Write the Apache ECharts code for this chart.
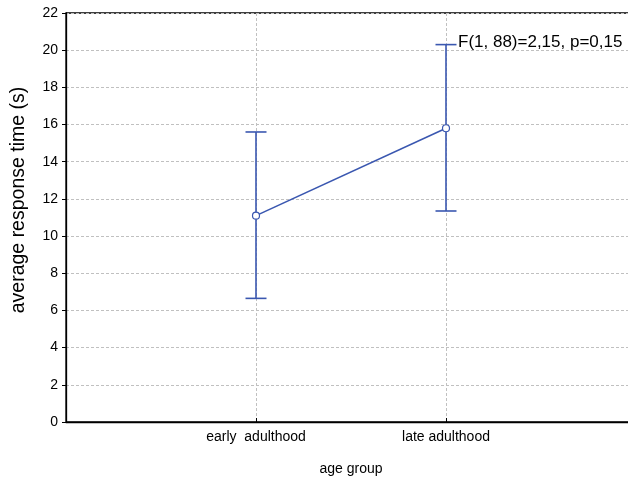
<!DOCTYPE html>
<html><head><meta charset="utf-8">
<script src="https://cdn.jsdelivr.net/npm/echarts@6/dist/echarts.min.js"></script>
<style>html,body{margin:0;padding:0;background:#fff}#c{width:628px;height:481px}</style>
</head><body><div id="c"></div>
<script>
const categories = ["early  adulthood", "late adulthood"];
const means = [11.1, 15.8];
const lower = [6.65, 11.35];
const upper = [15.6, 20.3];
const yTicks = [0, 2, 4, 6, 8, 10, 12, 14, 16, 18, 20, 22];
const annotation = "F(1, 88)=2,15, p=0,15";
const yTitle = "average response time (s)";
const xTitle = "age group";

const blue = '#3a57b0';
const font = 'Liberation Sans, Arial, sans-serif';
const chart = echarts.init(document.getElementById('c'));
const pts = means.map((m, i) => [i + 1, m]);
const bars = means.map((m, i) => [i + 1, lower[i], upper[i]]);

chart.setOption({
  animation: false,
  grid: { left: 66, top: 13, width: 570, height: 409, outerBoundsMode: 'none', containLabel: false,
    show: true, borderColor: '#000', borderWidth: 1.3, backgroundColor: 'transparent' },
  xAxis: {
    type: 'value', min: 0, max: 3, interval: 1,
    name: xTitle, nameLocation: 'middle', nameGap: 40,
    nameTextStyle: { color: '#000', fontSize: 14, fontFamily: font },
    axisLine: { show: true, lineStyle: { color: '#000', width: 1.3 } },
    axisTick: { show: true, inside: true, length: 4, lineStyle: { color: '#000' } },
    axisLabel: { color: '#000', fontSize: 14, fontFamily: font, margin: 8,
      formatter: v => (v >= 1 && v <= categories.length && Number.isInteger(v)) ? categories[v - 1] : '' },
    splitLine: { show: true, lineStyle: { color: '#c0c0c0', type: [3, 2], width: 1 } }
  },
  yAxis: {
    type: 'value', min: yTicks[0], max: yTicks[yTicks.length - 1], interval: 2,
    axisLine: { show: true, lineStyle: { color: '#000', width: 1.3 } },
    axisTick: { show: true, length: 4, lineStyle: { color: '#000' } },
    axisLabel: { color: '#000', fontSize: 14, fontFamily: font, margin: 8 },
    splitLine: { show: true, lineStyle: { color: '#c0c0c0', type: [3, 2], width: 1 } }
  },
  graphic: [
    { type: 'text', left: 458, top: 34, style: { text: annotation, fill: '#000', font: '17px ' + font } },
    { type: 'text', x: 19, y: 200, rotation: Math.PI / 2,
      style: { text: yTitle, fill: '#000', font: '19.5px ' + font, align: 'center', verticalAlign: 'middle' } }
  ],
  series: [
    {
      type: 'custom', data: bars, z: 3,
      renderItem: (params, api) => {
        const x = api.value(0);
        const lo = api.coord([x, api.value(1)]);
        const hi = api.coord([x, api.value(2)]);
        const w = 10.5;
        const st = { stroke: blue, lineWidth: 1.6 };
        return { type: 'group', children: [
          { type: 'line', shape: { x1: lo[0], y1: lo[1], x2: hi[0], y2: hi[1] }, style: st },
          { type: 'line', shape: { x1: lo[0] - w, y1: lo[1], x2: lo[0] + w, y2: lo[1] }, style: st },
          { type: 'line', shape: { x1: hi[0] - w, y1: hi[1], x2: hi[0] + w, y2: hi[1] }, style: st }
        ]};
      }
    },
    {
      type: 'line', data: pts, z: 4,
      symbol: 'circle', symbolSize: 7,
      lineStyle: { color: blue, width: 1.6 },
      itemStyle: { color: '#fff', borderColor: blue, borderWidth: 1.2 }
    }
  ]
});
</script></body></html>
